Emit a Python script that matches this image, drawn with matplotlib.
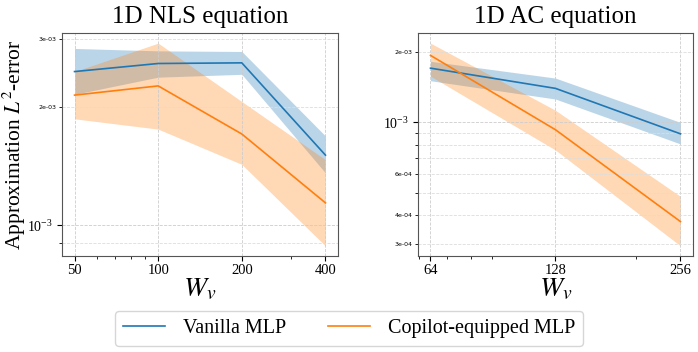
import numpy as np
import matplotlib
matplotlib.use("Agg")
import matplotlib.pyplot as plt
import matplotlib.ticker as mticker

plt.rcParams['font.family'] = ['Liberation Serif', 'DejaVu Serif']
plt.rcParams['mathtext.fontset'] = 'stix'

# ---- data: 1D NLS ----
nls_w = [50, 100, 200, 400]
nls_vanilla = [2.47e-3, 2.59e-3, 2.60e-3, 1.51e-3]
nls_vanilla_lo = [2.16e-3, 2.39e-3, 2.43e-3, 1.36e-3]
nls_vanilla_hi = [2.83e-3, 2.79e-3, 2.78e-3, 1.69e-3]
nls_copilot = [2.15e-3, 2.27e-3, 1.71e-3, 1.14e-3]
nls_copilot_lo = [1.87e-3, 1.76e-3, 1.43e-3, 0.885e-3]
nls_copilot_hi = [2.47e-3, 2.92e-3, 2.07e-3, 1.47e-3]

# ---- data: 1D AC ----
ac_w = [64, 128, 256]
ac_vanilla = [1.71e-3, 1.40e-3, 0.893e-3]
ac_vanilla_lo = [1.51e-3, 1.26e-3, 0.808e-3]
ac_vanilla_hi = [1.83e-3, 1.55e-3, 1.00e-3]
ac_copilot = [1.94e-3, 0.93e-3, 0.375e-3]
ac_copilot_lo = [1.58e-3, 0.761e-3, 0.295e-3]
ac_copilot_hi = [2.19e-3, 1.127e-3, 0.481e-3]

titles = ["1D NLS equation", "1D AC equation"]
labels = ["Vanilla MLP", "Copilot-equipped MLP"]
ylabel = "Approximation $L^2$-error"
xlabel = "$W_v$"

C_BLUE = '#1f77b4'
C_ORANGE = '#ff7f0e'


class SmallSci(mticker.LogFormatterSciNotation):
    def __call__(self, x, pos=None):
        s = super().__call__(x, pos)
        if s == '':
            return ''
        return '%.0e' % x


W, H = 698, 352
fig = plt.figure(figsize=(W / 100, H / 100), dpi=100)
ax1 = fig.add_axes([62 / W, 1 - 256 / H, 276 / W, 223 / H])
ax2 = fig.add_axes([418 / W, 1 - 256 / H, 275 / W, 223 / H])

panels = [
    (ax1, nls_w, nls_vanilla, nls_vanilla_lo, nls_vanilla_hi,
     nls_copilot, nls_copilot_lo, nls_copilot_hi),
    (ax2, ac_w, ac_vanilla, ac_vanilla_lo, ac_vanilla_hi,
     ac_copilot, ac_copilot_lo, ac_copilot_hi),
]

handles = []
for i, (ax, w, v, vlo, vhi, c, clo, chi) in enumerate(panels):
    h1, = ax.plot(w, v, color=C_BLUE, lw=1.2, label=labels[0])
    ax.fill_between(w, vlo, vhi, color=C_BLUE, alpha=0.3, lw=0)
    h2, = ax.plot(w, c, color=C_ORANGE, lw=1.2, label=labels[1])
    ax.fill_between(w, clo, chi, color=C_ORANGE, alpha=0.3, lw=0)
    if i == 0:
        handles = [h1, h2]
    ax.set_xscale('log')
    ax.set_yscale('log')
    ax.set_xticks(w)
    ax.set_xticklabels([str(x) for x in w])
    ax.xaxis.set_minor_formatter(mticker.NullFormatter())
    ax.yaxis.set_minor_formatter(SmallSci(labelOnlyBase=False,
                                          minor_thresholds=(1, 0.4)))
    ax.tick_params(axis='x', which='major', labelsize=10.5, length=3.5,
                   width=0.8, pad=2)
    ax.tick_params(axis='x', which='minor', length=2, width=0.6)
    ax.tick_params(axis='y', which='major', labelsize=10, length=3.5,
                   width=0.8, pad=3)
    ax.tick_params(axis='y', which='minor', labelsize=4.5, length=2,
                   width=0.6, pad=2)
    ax.grid(True, which='major', axis='both', ls='--', lw=0.6, color='#cccccc')
    ax.grid(True, which='minor', axis='y', ls='--', lw=0.6, color='#dddddd')
    ax.set_title(titles[i], fontsize=18, pad=7)
    ax.set_xlabel(xlabel, fontsize=20, labelpad=0)
    for sp in ax.spines.values():
        sp.set_color('#555555')

ax1.set_ylabel(ylabel, fontsize=15.5)
ax1.yaxis.set_label_coords(-0.122, 0.5)

for ax in (ax1, ax2):
    for lab in ax.yaxis.get_minorticklabels():
        lab.set_fontfamily('DejaVu Sans')

fig.legend(handles, labels, loc='center', bbox_to_anchor=(0.5, 1 - 328.4 / H),
           ncol=2, fontsize=14.5, handlelength=2.1, handletextpad=0.87,
           columnspacing=2.08, borderpad=0.4, frameon=True, fancybox=True)

fig.savefig('out.png', dpi=100)
